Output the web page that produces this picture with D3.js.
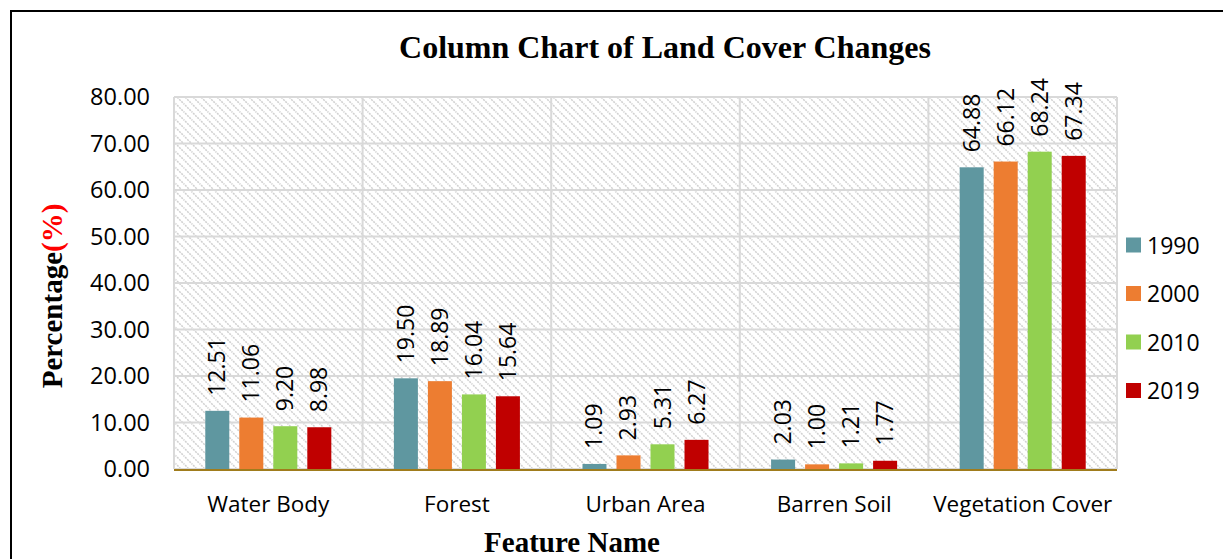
<!DOCTYPE html>
<html><head><meta charset="utf-8">
<script src="https://cdn.jsdelivr.net/npm/d3@7"></script>
<style>body{margin:0;background:#fff}svg{display:block}</style>
</head><body>
<svg id="c" width="1223" height="559"></svg>
<script>
const categories = ["Water Body","Forest","Urban Area","Barren Soil","Vegetation Cover"];
const years = ["1990","2000","2010","2019"];
const v1990 = [12.51,19.50,1.09,2.03,64.88];
const v2000 = [11.06,18.89,2.93,1.00,66.12];
const v2010 = [9.20,16.04,5.31,1.21,68.24];
const v2019 = [8.98,15.64,6.27,1.77,67.34];
const yTicks = [0,10,20,30,40,50,60,70,80];
const colors = ["#5f97a0","#ed7d31","#92d050","#c00000"];
const series = [v1990,v2000,v2010,v2019];

const svg = d3.select("#c");
const font = "'Open Sans', sans-serif";
const serif = "'Liberation Serif','Times New Roman',serif";

// outer frame
svg.append("path").attr("d","M11,559 L11,11 L1223,11").attr("fill","none").attr("stroke","#000").attr("stroke-width",2);

const L=174, R=1117, T=97, B=469;
const x0 = d3.scaleBand().domain(categories).range([L,R]).paddingInner(0).paddingOuter(0);
const x1 = d3.scaleBand().domain(years).range([0,x0.bandwidth()]).paddingInner(0.294).paddingOuter(0.92);
const y = d3.scaleLinear().domain([0,80]).range([B,T]);

// hatch pattern
const defs = svg.append("defs");
const pat = defs.append("pattern").attr("id","hatch").attr("patternUnits","userSpaceOnUse").attr("width",8).attr("height",8);
pat.append("rect").attr("width",8).attr("height",8).attr("fill","#fff");
pat.append("path").attr("d","M-1,-1 L9,9 M-9,-1 L1,9 M7,-1 L17,9").attr("stroke","#d0d0d0").attr("stroke-width",1.5).attr("stroke-dasharray","2,1");
svg.append("rect").attr("x",L).attr("y",T).attr("width",R-L).attr("height",B-T).attr("fill","url(#hatch)");

// gridlines
svg.append("g").selectAll("line").data(yTicks).join("line")
  .attr("x1",L).attr("x2",R).attr("y1",d=>y(d)).attr("y2",d=>y(d))
  .attr("stroke","#d9d9d9").attr("stroke-width",2);
const bounds = categories.map(c=>x0(c)).concat([R]);
svg.append("g").selectAll("line").data(bounds).join("line")
  .attr("x1",d=>d).attr("x2",d=>d).attr("y1",T).attr("y2",B)
  .attr("stroke","#d9d9d9").attr("stroke-width",2);

// y axis labels
const yAxis = d3.axisLeft(y).tickValues(yTicks).tickFormat(d3.format(".2f")).tickSize(0).tickPadding(0);
const ga = svg.append("g").attr("transform",`translate(150,0)`).call(yAxis);
ga.select(".domain").remove();
ga.selectAll("text").attr("font-family",font).attr("font-size",23.5).attr("fill","#000");

// bars
const g = svg.append("g");
categories.forEach((c,i)=>{
  years.forEach((yr,j)=>{
    const v = series[j][i];
    const bx = x0(c)+x1(yr);
    g.append("rect").attr("x",bx).attr("y",y(v)).attr("width",x1.bandwidth()).attr("height",B-y(v)).attr("fill",colors[j]);
    g.append("text").attr("transform",`translate(${bx+x1.bandwidth()/2+8},${y(v)-15}) rotate(-90)`)
      .attr("font-family",font).attr("font-size",23).attr("fill","#000").text(v.toFixed(2));
  });
});

// x axis line
svg.append("line").attr("x1",L).attr("x2",R).attr("y1",B+1).attr("y2",B+1).attr("stroke","#a07c1c").attr("stroke-width",2);

// x axis labels
const xAxis = d3.axisBottom(x0).tickSize(0).tickPadding(0);
const gx = svg.append("g").attr("transform",`translate(0,496)`).call(xAxis);
gx.select(".domain").remove();
gx.selectAll("text").attr("font-family",font).attr("font-size",22.5).attr("fill","#000");

// title
svg.append("text").attr("x",665).attr("y",58).attr("text-anchor","middle")
  .attr("font-family",serif).attr("font-weight","bold").attr("font-size",32).text("Column Chart of Land Cover Changes");
// x title
svg.append("text").attr("x",572).attr("y",552).attr("text-anchor","middle")
  .attr("font-family",serif).attr("font-weight","bold").attr("font-size",29).text("Feature Name");
// y title
const yt = svg.append("text").attr("transform","translate(62,296) rotate(-90)").attr("text-anchor","middle")
  .attr("font-family",serif).attr("font-weight","bold").attr("font-size",29);
yt.append("tspan").text("Percentage");
yt.append("tspan").attr("fill","#ff0000").text("(%)");

// legend
const lg = svg.append("g");
years.forEach((yr,j)=>{
  const ly = 245 + j*48.5;
  lg.append("rect").attr("x",1126).attr("y",ly-7.5).attr("width",15).attr("height",15).attr("fill",colors[j]);
  lg.append("text").attr("x",1147).attr("y",ly+8.5).attr("font-family",font).attr("font-size",23).attr("fill","#000").text(yr);
});
</script>
</body></html>
